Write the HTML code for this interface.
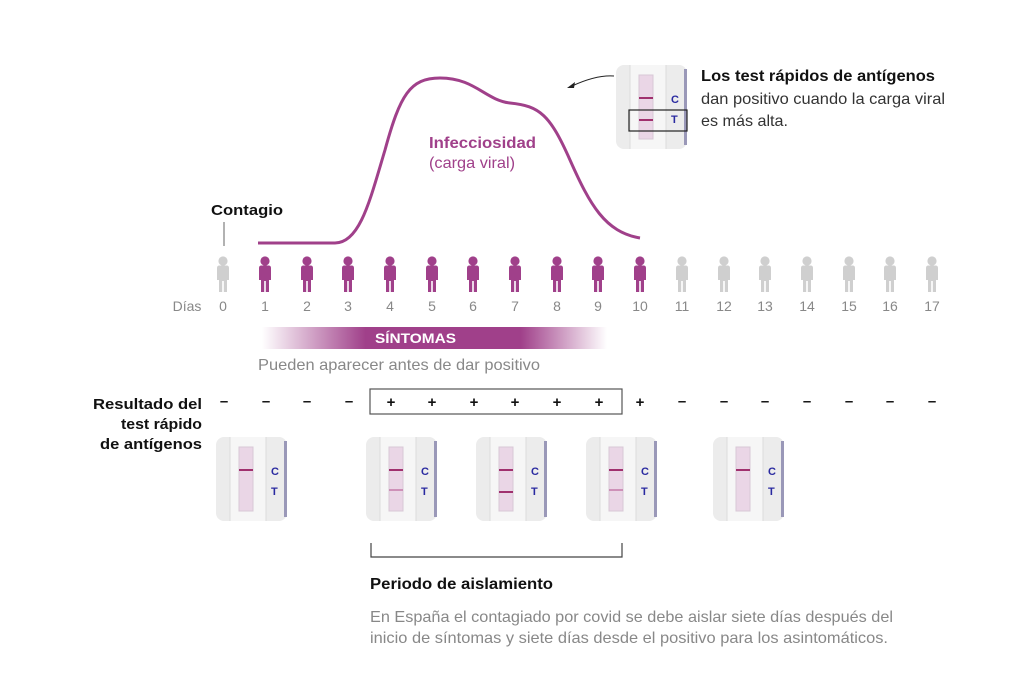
<!DOCTYPE html>
<html><head><meta charset="utf-8"><style>
body{margin:0;background:#fff;}
svg{display:block;font-family:"Liberation Sans",sans-serif;}
</style></head><body>
<svg width="1019" height="674" viewBox="0 0 1019 674" xmlns="http://www.w3.org/2000/svg">
<defs>
<g id="p"><circle cx="0" cy="261" r="4.6"/><path d="M-6,268 q0,-2.5 2.5,-2.5 h7 q2.5,0 2.5,2.5 v12 h-2 v12 h-3.2 v-11 h-1.6 v11 h-3.2 v-12 h-2 z"/></g>
<linearGradient id="sg" x1="0" x2="1">
<stop offset="0" stop-color="#a0408a" stop-opacity="0"/>
<stop offset="0.3" stop-color="#a0408a" stop-opacity="1"/>
<stop offset="0.75" stop-color="#a0408a" stop-opacity="1"/>
<stop offset="1" stop-color="#a0408a" stop-opacity="0"/>
</linearGradient>
<g id="card">
<rect x="0" y="0" width="71" height="84" rx="8" fill="#ececec"/>
<rect x="14" y="0" width="36" height="84" fill="#f6f6f6"/>
<line x1="14" y1="0" x2="14" y2="84" stroke="#dcdcdc"/>
<line x1="50" y1="0" x2="50" y2="84" stroke="#dcdcdc"/>
<rect x="68" y="4" width="3" height="76" fill="#9a98b8"/>
<rect x="23" y="10" width="14" height="64" fill="#ead6e6" stroke="#d8c8d6"/>
<text x="55" y="38" font-size="11" font-weight="bold" fill="#2a2aa0">C</text>
<text x="55" y="58" font-size="11" font-weight="bold" fill="#2a2aa0">T</text>
</g>
</defs>

<!-- curve -->
<path d="M258,243 L335,243 C360,243 370,200 385,150 C400,95 410,78 440,78 C475,78 485,100 510,103 C540,106 550,115 570,160 C590,205 605,232 640,238" fill="none" stroke="#a0408a" stroke-width="3"/>
<text x="429" y="148" font-size="16" font-weight="bold" fill="#a0408a" textLength="107" lengthAdjust="spacingAndGlyphs">Infecciosidad</text>
<text x="429" y="168" font-size="16" fill="#a0408a" textLength="86" lengthAdjust="spacingAndGlyphs">(carga viral)</text>
<text x="211" y="215" font-size="15" font-weight="bold" fill="#111" textLength="72" lengthAdjust="spacingAndGlyphs">Contagio</text>
<line x1="224" y1="222" x2="224" y2="246" stroke="#666"/>

<!-- top callout -->
<use href="#card" x="616" y="65"/>
<line x1="639" y1="98" x2="653" y2="98" stroke="#a0306e" stroke-width="2"/>
<line x1="639" y1="120" x2="653" y2="120" stroke="#a0306e" stroke-width="2"/>
<rect x="629" y="110" width="58" height="21" fill="none" stroke="#222" stroke-width="1.2"/>
<path d="M614,76 C600,75 585,80 572,86" fill="none" stroke="#222"/>
<path d="M567,88 l8,-6 l-1,6 z" fill="#222"/>
<text x="701" y="81" font-size="15.5" font-weight="bold" fill="#111" textLength="234" lengthAdjust="spacingAndGlyphs">Los test rápidos de antígenos</text>
<text x="701" y="104" font-size="16" fill="#333" textLength="244" lengthAdjust="spacingAndGlyphs">dan positivo cuando la carga viral</text>
<text x="701" y="126" font-size="16" fill="#333" textLength="87" lengthAdjust="spacingAndGlyphs">es más alta.</text>

<!-- people -->
<g fill="#cfcfcf"><use href="#p" x="223"/></g>
<g fill="#a0408a">
<use href="#p" x="265"/><use href="#p" x="307"/><use href="#p" x="348"/><use href="#p" x="390"/><use href="#p" x="432"/><use href="#p" x="473"/><use href="#p" x="515"/><use href="#p" x="557"/><use href="#p" x="598"/><use href="#p" x="640"/>
</g>
<g fill="#cfcfcf">
<use href="#p" x="682"/><use href="#p" x="724"/><use href="#p" x="765"/><use href="#p" x="807"/><use href="#p" x="849"/><use href="#p" x="890"/><use href="#p" x="932"/>
</g>
<g font-size="14" fill="#888" text-anchor="middle">
<text x="187" y="311">Días</text>
<text x="223" y="311">0</text><text x="265" y="311">1</text><text x="307" y="311">2</text><text x="348" y="311">3</text><text x="390" y="311">4</text><text x="432" y="311">5</text><text x="473" y="311">6</text><text x="515" y="311">7</text><text x="557" y="311">8</text><text x="598" y="311">9</text><text x="640" y="311">10</text><text x="682" y="311">11</text><text x="724" y="311">12</text><text x="765" y="311">13</text><text x="807" y="311">14</text><text x="849" y="311">15</text><text x="890" y="311">16</text><text x="932" y="311">17</text>
</g>

<!-- symptoms -->
<rect x="262" y="327" width="345" height="22" fill="url(#sg)"/>
<text x="375" y="343" font-size="14" font-weight="bold" fill="#fff" textLength="81" lengthAdjust="spacingAndGlyphs">SÍNTOMAS</text>
<text x="258" y="370" font-size="16" fill="#888" textLength="282" lengthAdjust="spacingAndGlyphs">Pueden aparecer antes de dar positivo</text>

<!-- results -->
<g font-size="15" font-weight="bold" fill="#111">
<text x="93" y="409" textLength="109" lengthAdjust="spacingAndGlyphs">Resultado del</text>
<text x="121" y="429" textLength="81" lengthAdjust="spacingAndGlyphs">test rápido</text>
<text x="100" y="449" textLength="102" lengthAdjust="spacingAndGlyphs">de antígenos</text>
</g>
<rect x="370" y="389" width="252" height="25" fill="none" stroke="#555" stroke-width="1.2"/>
<g font-size="15" font-weight="bold" fill="#111" text-anchor="middle">
<text x="224" y="406">–</text><text x="266" y="406">–</text><text x="307" y="406">–</text><text x="349" y="406">–</text>
<text x="391" y="407">+</text><text x="432" y="407">+</text><text x="474" y="407">+</text><text x="515" y="407">+</text><text x="557" y="407">+</text><text x="599" y="407">+</text><text x="640" y="407">+</text>
<text x="682" y="406">–</text><text x="724" y="406">–</text><text x="765" y="406">–</text><text x="807" y="406">–</text><text x="849" y="406">–</text><text x="890" y="406">–</text><text x="932" y="406">–</text>
</g>

<use href="#card" x="216" y="437"/>
<line x1="239" y1="470" x2="253" y2="470" stroke="#a0306e" stroke-width="2"/>
<use href="#card" x="366" y="437"/>
<line x1="389" y1="470" x2="403" y2="470" stroke="#a0306e" stroke-width="2"/>
<line x1="389" y1="490" x2="403" y2="490" stroke="#c47aa8" stroke-width="1.5"/>
<use href="#card" x="476" y="437"/>
<line x1="499" y1="470" x2="513" y2="470" stroke="#a0306e" stroke-width="2"/>
<line x1="499" y1="492" x2="513" y2="492" stroke="#a0306e" stroke-width="2"/>
<use href="#card" x="586" y="437"/>
<line x1="609" y1="470" x2="623" y2="470" stroke="#a0306e" stroke-width="2"/>
<line x1="609" y1="490" x2="623" y2="490" stroke="#c47aa8" stroke-width="1.5"/>
<use href="#card" x="713" y="437"/>
<line x1="736" y1="470" x2="750" y2="470" stroke="#a0306e" stroke-width="2"/>

<!-- isolation -->
<path d="M371,543 V557 H622 V543" fill="none" stroke="#444" stroke-width="1.2"/>
<text x="370" y="589" font-size="16" font-weight="bold" fill="#111" textLength="183" lengthAdjust="spacingAndGlyphs">Periodo de aislamiento</text>
<text x="370" y="622" font-size="16" fill="#888" textLength="523" lengthAdjust="spacingAndGlyphs">En España el contagiado por covid se debe aislar siete días después del</text>
<text x="370" y="643" font-size="16" fill="#888" textLength="518" lengthAdjust="spacingAndGlyphs">inicio de síntomas y siete días desde el positivo para los asintomáticos.</text>
</svg>
</body></html>
